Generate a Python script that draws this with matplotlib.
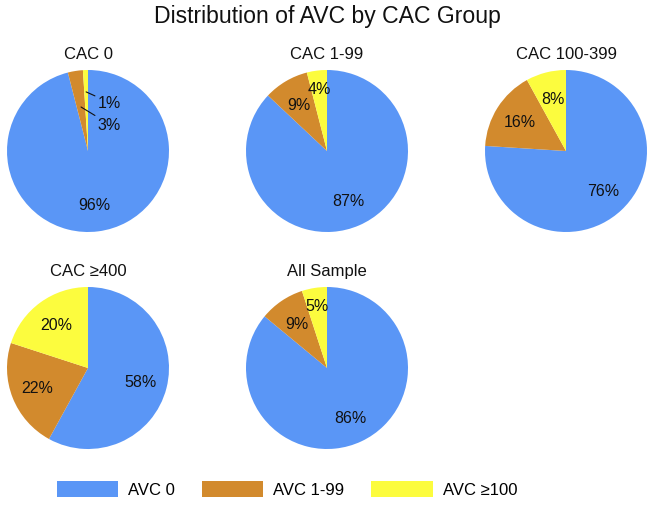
import numpy as np
import matplotlib
matplotlib.use('Agg')
import matplotlib.pyplot as plt
from matplotlib.patches import Patch

plt.rcParams['font.family'] = ['Liberation Sans', 'DejaVu Sans']

# Data (percent of each CAC group)
groups = ['CAC 0', 'CAC 1-99', 'CAC 100-399', 'CAC \u2265400', 'All Sample']
avc_0 = [96, 87, 76, 58, 86]
avc_1_99 = [3, 9, 16, 22, 9]
avc_100 = [1, 4, 8, 20, 5]
legend_labels = ['AVC 0', 'AVC 1-99', 'AVC \u2265100']

colors = ['#5A96F6', '#D28A2D', '#FCFC3E']

W, H = 650, 506
fig = plt.figure(figsize=(W / 100, H / 100), dpi=100)

# pie centres in pixels (x, y from top), radius in pixels
centres = [(88, 152), (327, 152), (566, 152), (88, 369), (327, 369)]
R = 81

for i, name in enumerate(groups):
    cx, cy = centres[i]
    ax = fig.add_axes([(cx - R) / W, (H - cy - R) / H, 2 * R / W, 2 * R / H])
    vals = [avc_0[i], avc_1_99[i], avc_100[i]]
    wedges, _ = ax.pie(vals, colors=colors, startangle=90, counterclock=False,
                       radius=1, wedgeprops=dict(linewidth=0))
    ax.set_xlim(-1, 1)
    ax.set_ylim(-1, 1)
    ax.set_aspect('equal')
    ax.axis('off')
    ax.text(0, 1.2, name, ha='center', va='center', fontsize=12, color='#111111')

    for j, w in enumerate(wedges):
        ang = np.deg2rad((w.theta1 + w.theta2) / 2)
        pct = '{}%'.format(vals[j])
        if i == 0 and j > 0:
            # tiny slices get leader lines
            ty = 0.6 if j == 2 else 0.33
            rr = 0.73 if j == 2 else 0.55
            ax.annotate(pct, xy=(rr * np.cos(ang), rr * np.sin(ang)),
                        xytext=(0.12, ty), ha='left', va='center', fontsize=11.5,
                        color='#111111',
                        arrowprops=dict(arrowstyle='-', color='#111111', lw=0.8,
                                        shrinkA=0, shrinkB=0))
            continue
        d = 0.67
        if vals[j] <= 5 and j == 2:
            d = 0.78
        ax.text(d * np.cos(ang), d * np.sin(ang), pct, ha='center', va='center',
                fontsize=11.5, color='#111111')

fig.text(327 / W, 1 - 17 / H, 'Distribution of AVC by CAC Group',
         ha='center', va='center', fontsize=16.6, color='#111111')

handles = [Patch(facecolor=c, edgecolor='none') for c in colors]
fig.legend(handles, legend_labels, loc='center', ncol=3, frameon=False,
           bbox_to_anchor=(287 / W, 16 / H), fontsize=12,
           handlelength=3.7, handleheight=1.1, handletextpad=0.6,
           columnspacing=1.6)

fig.savefig('out.png', dpi=100)
